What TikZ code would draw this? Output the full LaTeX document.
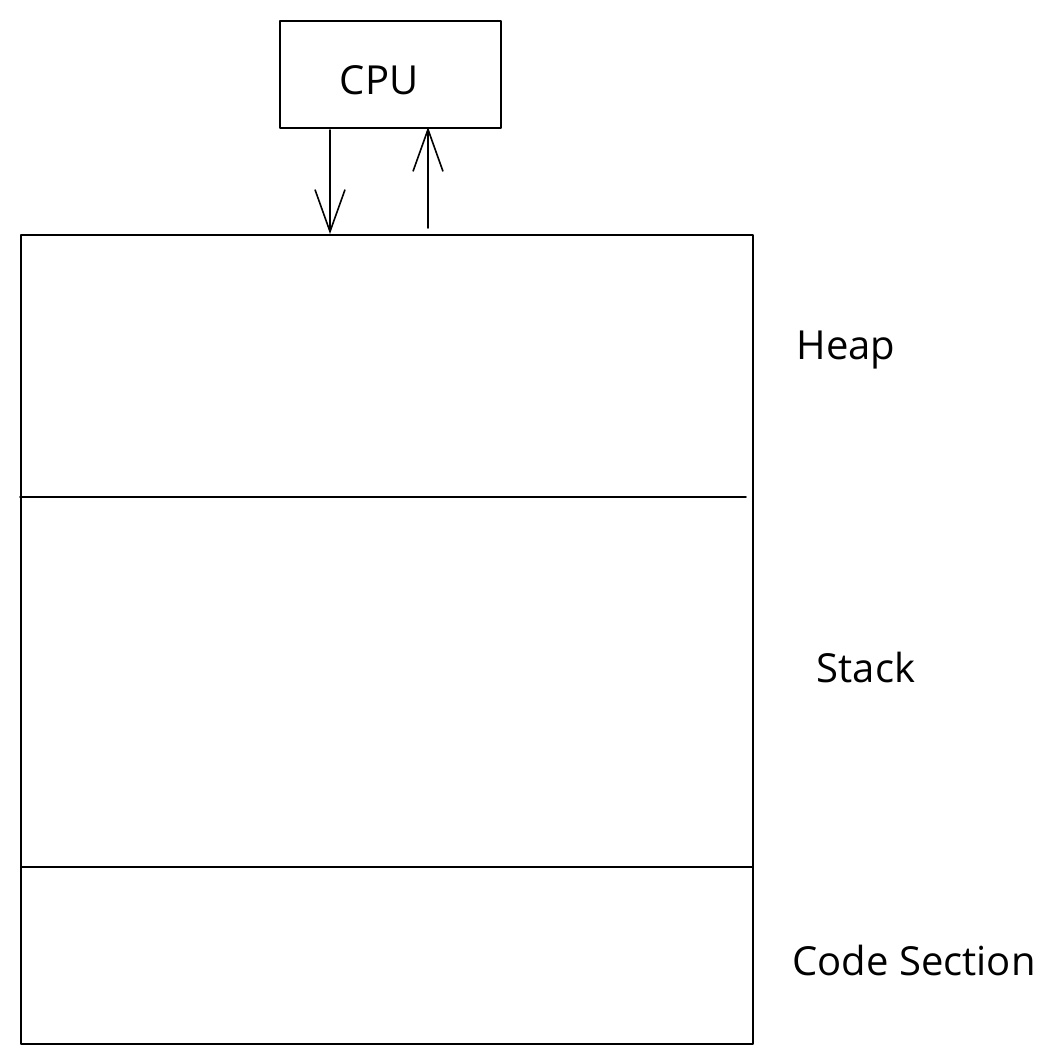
\documentclass[tikz,border=0pt]{standalone}
\usepackage{fontspec}
\setmainfont{Open Sans}
\usetikzlibrary{arrows.meta}
\begin{document}
\begin{tikzpicture}[x=1pt,y=-1pt,
  sk/.style={draw=black,line width=1.6pt,line join=round,line cap=round},
  lbl/.style={font=\fontsize{40}{44}\selectfont,anchor=center,inner sep=0pt},
  arr/.style={sk,-{Straight Barb[length=42pt,width=30pt,line width=1.6pt]}}]
\useasboundingbox (0,0) rectangle (1060,1061);
\node[sk,minimum width=221pt,minimum height=107pt,inner sep=0pt,anchor=north west] (cpu) at (279,20) {};
\node[lbl] (cpulbl) at (379,80) {CPU};
\node[sk,minimum width=732pt,minimum height=809pt,inner sep=0pt,anchor=north west] (mem) at (20,234) {};
\coordinate (d1l) at (20,497); \coordinate (d1r) at (746,497);
\coordinate (d2l) at (22,867); \coordinate (d2r) at (752,867);
\draw[sk] (d1l) -- (d1r);
\draw[sk] (d2l) -- (d2r);
\coordinate (a1s) at (330,130); \coordinate (a1e) at (330,234);
\coordinate (a2s) at (428,228); \coordinate (a2e) at (428,127);
\draw[arr] (a1s) -- (a1e);
\draw[arr] (a2s) -- (a2e);
\node[lbl] (heap) at (846,350) {Heap};
\node[lbl] (stack) at (866,667) {Stack};
\node[lbl] (code) at (914,960) {Code Section};
\end{tikzpicture}
\end{document}
